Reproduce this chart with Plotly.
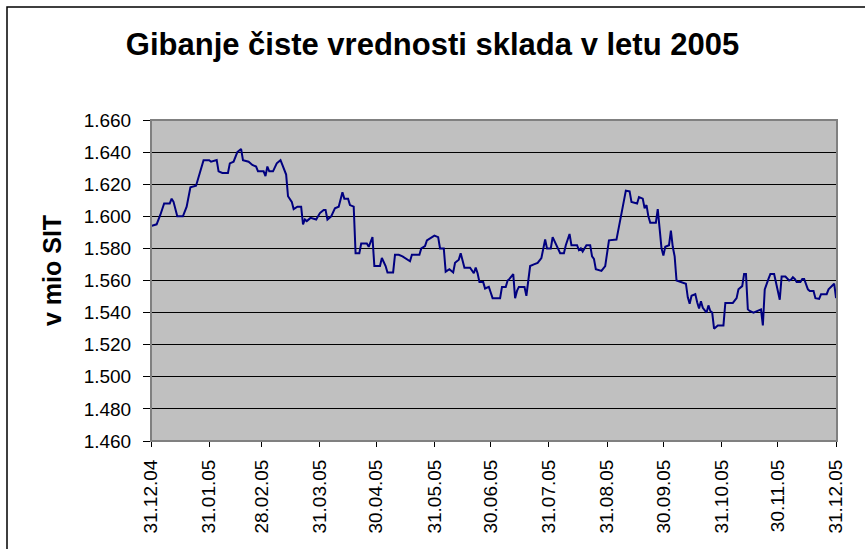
import plotly.graph_objects as go

dates = [
    "2004-12-31", "2005-01-03", "2005-01-05", "2005-01-07", "2005-01-10", "2005-01-11", "2005-01-12",
    "2005-01-14", "2005-01-17", "2005-01-19", "2005-01-21", "2005-01-24", "2005-01-26", "2005-01-28",
    "2005-01-31", "2005-02-01", "2005-02-04", "2005-02-05", "2005-02-07", "2005-02-10", "2005-02-11",
    "2005-02-13", "2005-02-15", "2005-02-17", "2005-02-18", "2005-02-21", "2005-02-23", "2005-02-25",
    "2005-02-26", "2005-03-01", "2005-03-02", "2005-03-03", "2005-03-04", "2005-03-06", "2005-03-08",
    "2005-03-10", "2005-03-11", "2005-03-13", "2005-03-14", "2005-03-16", "2005-03-17", "2005-03-19",
    "2005-03-21", "2005-03-22", "2005-03-23", "2005-03-24", "2005-03-26", "2005-03-29", "2005-03-31",
    "2005-04-02", "2005-04-03", "2005-04-04", "2005-04-06", "2005-04-08", "2005-04-10", "2005-04-12",
    "2005-04-13", "2005-04-15", "2005-04-16", "2005-04-18", "2005-04-19", "2005-04-21", "2005-04-22",
    "2005-04-25", "2005-04-26", "2005-04-28", "2005-04-29", "2005-05-02", "2005-05-03", "2005-05-05",
    "2005-05-06", "2005-05-09", "2005-05-10", "2005-05-12", "2005-05-14", "2005-05-18", "2005-05-19",
    "2005-05-23", "2005-05-24", "2005-05-26", "2005-05-27", "2005-05-31", "2005-06-02", "2005-06-03",
    "2005-06-05", "2005-06-06", "2005-06-08", "2005-06-10", "2005-06-11", "2005-06-13", "2005-06-14",
    "2005-06-16", "2005-06-19", "2005-06-21", "2005-06-22", "2005-06-23", "2005-06-24", "2005-06-26",
    "2005-06-27", "2005-06-29", "2005-06-30", "2005-07-01", "2005-07-05", "2005-07-06", "2005-07-08",
    "2005-07-09", "2005-07-10", "2005-07-12", "2005-07-13", "2005-07-14", "2005-07-15", "2005-07-18",
    "2005-07-19", "2005-07-21", "2005-07-23", "2005-07-25", "2005-07-27", "2005-07-28", "2005-07-29",
    "2005-07-30", "2005-08-01", "2005-08-02", "2005-08-04", "2005-08-06", "2005-08-08", "2005-08-09",
    "2005-08-11", "2005-08-12", "2005-08-15", "2005-08-16", "2005-08-17", "2005-08-18", "2005-08-20",
    "2005-08-22", "2005-08-23", "2005-08-24", "2005-08-25", "2005-08-28", "2005-08-30", "2005-08-31",
    "2005-09-01", "2005-09-05", "2005-09-07", "2005-09-08", "2005-09-10", "2005-09-12", "2005-09-13",
    "2005-09-16", "2005-09-17", "2005-09-19", "2005-09-20", "2005-09-21", "2005-09-22", "2005-09-23",
    "2005-09-26", "2005-09-27", "2005-09-28", "2005-09-29", "2005-09-30", "2005-10-01", "2005-10-03",
    "2005-10-04", "2005-10-05", "2005-10-06", "2005-10-07", "2005-10-10", "2005-10-12", "2005-10-13",
    "2005-10-14", "2005-10-15", "2005-10-17", "2005-10-18", "2005-10-19", "2005-10-20", "2005-10-21",
    "2005-10-23", "2005-10-24", "2005-10-25", "2005-10-26", "2005-10-27", "2005-10-29", "2005-11-01",
    "2005-11-02", "2005-11-06", "2005-11-08", "2005-11-09", "2005-11-11", "2005-11-12", "2005-11-13",
    "2005-11-14", "2005-11-15", "2005-11-17", "2005-11-19", "2005-11-20", "2005-11-21", "2005-11-22",
    "2005-11-23", "2005-11-25", "2005-11-26", "2005-11-28", "2005-11-29", "2005-12-01", "2005-12-02",
    "2005-12-04", "2005-12-06", "2005-12-07", "2005-12-08", "2005-12-09", "2005-12-10", "2005-12-12",
    "2005-12-13", "2005-12-14", "2005-12-16", "2005-12-17", "2005-12-19", "2005-12-20", "2005-12-22",
    "2005-12-23", "2005-12-26", "2005-12-27", "2005-12-30", "2005-12-31",
]

values = [
    1.594, 1.595, 1.601, 1.608, 1.608, 1.611, 1.609,
    1.600, 1.600, 1.606, 1.618, 1.619, 1.627, 1.635,
    1.635, 1.634, 1.635, 1.628, 1.627, 1.627, 1.633,
    1.634, 1.640, 1.642, 1.635, 1.634, 1.632, 1.631,
    1.628, 1.628, 1.625, 1.631, 1.628, 1.628, 1.633,
    1.635, 1.632, 1.626, 1.6125, 1.609, 1.6045, 1.606,
    1.606, 1.595, 1.598, 1.597, 1.599, 1.598, 1.602,
    1.604, 1.604, 1.598, 1.600, 1.605, 1.606, 1.615,
    1.611, 1.611, 1.607, 1.606, 1.577, 1.577, 1.583,
    1.583, 1.581, 1.587, 1.569, 1.569, 1.574, 1.569,
    1.565, 1.565, 1.576, 1.576, 1.575, 1.572, 1.576,
    1.576, 1.580, 1.5815, 1.585, 1.588, 1.587, 1.580,
    1.580, 1.5655, 1.567, 1.565, 1.571, 1.573, 1.577,
    1.568, 1.568, 1.5645, 1.568, 1.5645, 1.559, 1.559,
    1.555, 1.556, 1.5525, 1.549, 1.549, 1.556, 1.556,
    1.560, 1.561, 1.564, 1.549, 1.5535, 1.556, 1.556,
    1.5505, 1.569, 1.570, 1.571, 1.574, 1.580, 1.5855,
    1.580, 1.580, 1.587, 1.582, 1.577, 1.577, 1.582,
    1.589, 1.582, 1.582, 1.579, 1.580, 1.578, 1.582,
    1.582, 1.575, 1.5735, 1.567, 1.566, 1.569, 1.577,
    1.585, 1.5855, 1.598, 1.605, 1.616, 1.6155, 1.609,
    1.608, 1.612, 1.611, 1.605, 1.607, 1.600, 1.596,
    1.596, 1.6045, 1.593, 1.580, 1.5755, 1.581, 1.582,
    1.591, 1.581, 1.575, 1.560, 1.559, 1.558, 1.5495,
    1.5455, 1.5505, 1.5515, 1.5465, 1.5425, 1.547, 1.543,
    1.540, 1.5445, 1.541, 1.540, 1.530, 1.532, 1.532,
    1.546, 1.546, 1.549, 1.5545, 1.5565, 1.564, 1.564,
    1.542, 1.541, 1.540, 1.541, 1.542, 1.542, 1.532,
    1.5545, 1.561, 1.564, 1.564, 1.559, 1.548, 1.5625,
    1.5625, 1.560, 1.5605, 1.562, 1.561, 1.559, 1.559,
    1.561, 1.561, 1.5545, 1.5535, 1.5535, 1.549, 1.5485,
    1.5515, 1.5515, 1.5545, 1.558, 1.549,
]

x_tick_dates = [
    "2004-12-31", "2005-01-31", "2005-02-28", "2005-03-31", "2005-04-30", "2005-05-31", "2005-06-30",
    "2005-07-31", "2005-08-31", "2005-09-30", "2005-10-31", "2005-11-30", "2005-12-31",
]
x_tick_labels = [
    "31.12.04", "31.01.05", "28.02.05", "31.03.05", "30.04.05", "31.05.05", "30.06.05",
    "31.07.05", "31.08.05", "30.09.05", "31.10.05", "30.11.05", "31.12.05",
]
y_tick_vals = [1.46, 1.48, 1.50, 1.52, 1.54, 1.56, 1.58, 1.60, 1.62, 1.64, 1.66]
y_tick_labels = ["1.460", "1.480", "1.500", "1.520", "1.540", "1.560", "1.580",
                 "1.600", "1.620", "1.640", "1.660"]

title_text = "Gibanje čiste vrednosti sklada v letu 2005"
y_title = "v mio SIT"

W, H = 865, 549
FONT = "Liberation Sans, Arial, sans-serif"

fig = go.Figure()
fig.add_trace(go.Scatter(
    x=dates, y=values, mode="lines",
    line=dict(color="#000080", width=2),
    showlegend=False, hoverinfo="skip",
))

fig.update_layout(
    width=W, height=H,
    margin=dict(l=0, r=0, t=0, b=0, autoexpand=False),
    paper_bgcolor="white",
    plot_bgcolor="#C0C0C0",
    title=dict(
        text=title_text,
        x=0.5, xanchor="center", xref="container",
        y=1 - 44 / H, yanchor="middle", yref="container",
        font=dict(family=FONT, size=31, color="black", weight="bold"),
    ),
    xaxis=dict(
        domain=[151 / W, 837 / W],
        automargin=False,
        type="date",
        range=["2004-12-31", "2005-12-31 12:00"],
        tickmode="array",
        tickvals=x_tick_dates,
        ticktext=x_tick_labels,
        tickangle=-90,
        ticks="outside", ticklen=5, tickwidth=1, tickcolor="black",
        ticklabelstandoff=5,
        showgrid=False, zeroline=False,
        showline=True, linecolor="black", linewidth=1,
        tickfont=dict(family=FONT, size=19, color="black"),
    ),
    yaxis=dict(
        domain=[1 - 441 / H, 1 - 120 / H],
        automargin=False,
        range=[1.46, 1.66],
        tickmode="array",
        tickvals=y_tick_vals,
        ticktext=y_tick_labels,
        ticks="outside", ticklen=7, tickwidth=1, tickcolor="black",
        ticklabelstandoff=8,
        showgrid=True, gridcolor="black", gridwidth=1,
        zeroline=False,
        showline=True, linecolor="black", linewidth=1,
        tickfont=dict(family=FONT, size=19, color="black"),
    ),
    annotations=[dict(
        text=y_title, textangle=-90,
        x=52 / W, y=1 - 271 / H, xref="paper", yref="paper",
        xanchor="center", yanchor="middle", showarrow=False,
        font=dict(family=FONT, size=25, color="black", weight="bold"),
    )],
    shapes=[
        # plot area border (grey top and right)
        dict(type="rect", xref="paper", yref="paper",
             x0=151 / W, x1=837 / W, y0=1 - 441 / H, y1=1 - 120 / H,
             line=dict(color="#808080", width=2), layer="above"),
        # outer chart frame
        dict(type="rect", xref="paper", yref="paper",
             x0=7 / W, x1=1.05, y0=-0.05, y1=1 - 7 / H,
             line=dict(color="black", width=1.5), layer="above"),
    ],
)

fig.write_html(
    "out.html",
    config={"displayModeBar": False},
    post_script="document.body.style.margin='0';document.body.style.overflow='hidden';",
)
